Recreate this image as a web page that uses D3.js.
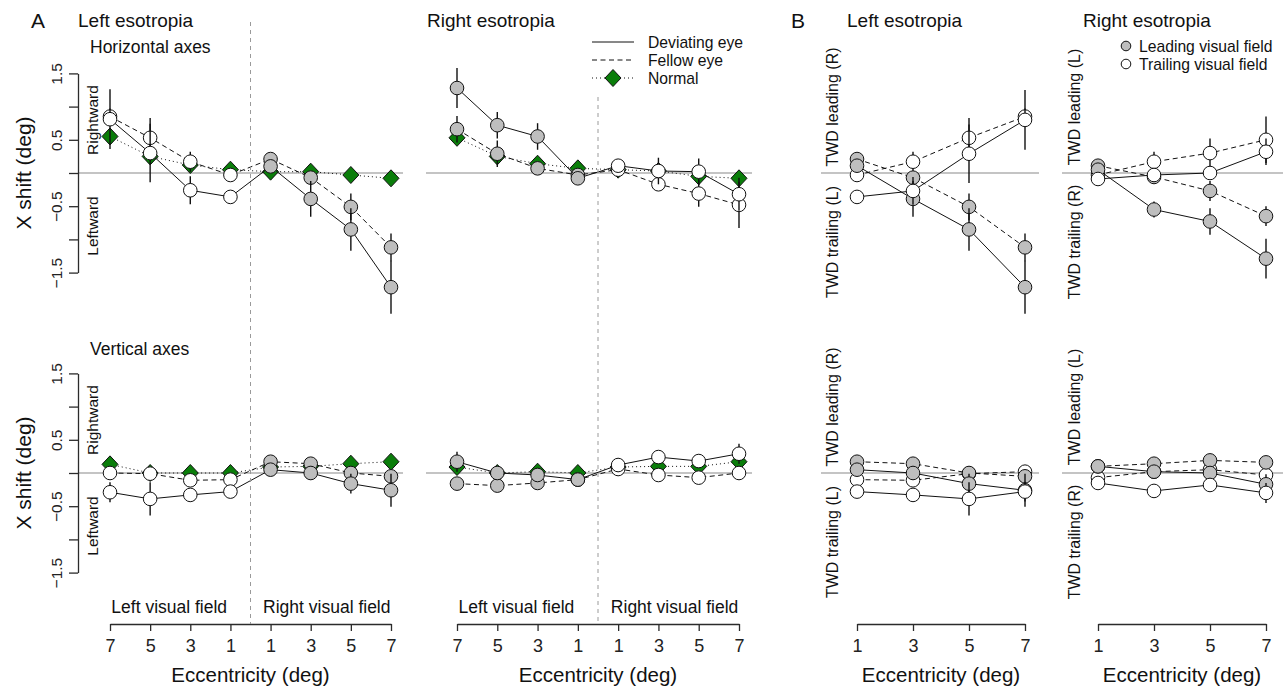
<!DOCTYPE html>
<html>
<head>
<meta charset="utf-8">
<script src="https://cdn.jsdelivr.net/npm/d3@7"></script>
<style>
  body { margin: 0; background: #fff; }
  svg { font-family: "Liberation Sans", Arial, sans-serif; }
</style>
</head>
<body>
<div id="chart"></div>
<script>
// categories
var fieldCats = ["L7", "L5", "L3", "L1", "R1", "R3", "R5", "R7"];
var fieldTickLabels = ["7", "5", "3", "1", "1", "3", "5", "7"];
var eccB = [1, 3, 5, 7];
var yTicks = [-1.5, -1, -0.5, 0, 0.5, 1, 1.5];

// A: left esotropia, horizontal axes
var aLeHorDev = [0.81, 0.30, -0.26, -0.36, 0.10, -0.39, -0.85, -1.72];
var aLeHorDevSe = [0.45, 0.44, 0.21, 0.06, 0.08, 0.27, 0.32, 0.40];
var aLeHorFel = [0.85, 0.53, 0.17, -0.03, 0.21, -0.07, -0.51, -1.12];
var aLeHorFelSe = [0.12, 0.30, 0.15, 0.05, 0.06, 0.10, 0.20, 0.21];
var aLeHorNor = [0.55, 0.25, 0.12, 0.05, 0.02, 0.02, -0.03, -0.08];
var aLeHorNorSe = [0.08, 0.05, 0.05, 0.03, 0.03, 0.03, 0.03, 0.08];

// A: right esotropia, horizontal axes
var aReHorDev = [1.28, 0.72, 0.55, -0.08, 0.11, 0.03, 0.02, -0.32];
var aReHorDevSe = [0.30, 0.20, 0.20, 0.05, 0.10, 0.20, 0.20, 0.25];
var aReHorFel = [0.66, 0.29, 0.07, -0.03, 0.05, -0.17, -0.31, -0.48];
var aReHorFelSe = [0.20, 0.20, 0.05, 0.05, 0.05, 0.10, 0.20, 0.35];
var aReHorNor = [0.53, 0.25, 0.14, 0.07, 0.05, 0.03, -0.05, -0.08];
var aReHorNorSe = [0.10, 0.06, 0.05, 0.03, 0.03, 0.03, 0.03, 0.10];

// A: left esotropia, vertical axes
var aLeVerDev = [-0.29, -0.39, -0.33, -0.28, 0.05, 0.00, -0.16, -0.26];
var aLeVerDevSe = [0.15, 0.25, 0.10, 0.05, 0.05, 0.10, 0.15, 0.25];
var aLeVerFel = [0.00, -0.01, -0.11, -0.10, 0.17, 0.14, 0.00, -0.05];
var aLeVerFelSe = [0.08, 0.10, 0.05, 0.05, 0.05, 0.05, 0.05, 0.08];
var aLeVerNor = [0.13, 0.00, 0.00, 0.00, 0.09, 0.10, 0.14, 0.17];
var aLeVerNorSe = [0.03, 0.03, 0.03, 0.03, 0.03, 0.03, 0.03, 0.03];

// A: right esotropia, vertical axes
var aReVerDev = [0.17, 0.00, -0.03, -0.10, 0.12, 0.24, 0.18, 0.29];
var aReVerDevSe = [0.15, 0.08, 0.05, 0.05, 0.10, 0.08, 0.10, 0.15];
var aReVerFel = [-0.16, -0.19, -0.15, -0.10, 0.06, -0.03, -0.07, 0.00];
var aReVerFelSe = [0.06, 0.05, 0.05, 0.05, 0.05, 0.05, 0.05, 0.10];
var aReVerNor = [0.09, 0.00, 0.02, 0.00, 0.09, 0.10, 0.10, 0.17];
var aReVerNorSe = [0.03, 0.03, 0.03, 0.03, 0.03, 0.03, 0.03, 0.03];

// B: TWD, left esotropia, horizontal
var bLeHorLeadDev = [0.11, -0.39, -0.85, -1.72];
var bLeHorLeadDevSe = [0.08, 0.27, 0.32, 0.40];
var bLeHorLeadFel = [0.21, -0.07, -0.51, -1.12];
var bLeHorLeadFelSe = [0.06, 0.10, 0.20, 0.21];
var bLeHorTrailDev = [-0.36, -0.27, 0.29, 0.80];
var bLeHorTrailDevSe = [0.06, 0.21, 0.44, 0.45];
var bLeHorTrailFel = [-0.03, 0.17, 0.53, 0.85];
var bLeHorTrailFelSe = [0.05, 0.15, 0.30, 0.12];

// B: TWD, right esotropia, horizontal
var bReHorLeadDev = [0.05, -0.55, -0.73, -1.29];
var bReHorLeadDevSe = [0.05, 0.12, 0.20, 0.30];
var bReHorLeadFel = [0.11, -0.06, -0.27, -0.65];
var bReHorLeadFelSe = [0.05, 0.10, 0.15, 0.15];
var bReHorTrailDev = [-0.09, -0.03, 0.00, 0.32];
var bReHorTrailDevSe = [0.05, 0.10, 0.10, 0.20];
var bReHorTrailFel = [-0.03, 0.17, 0.30, 0.50];
var bReHorTrailFelSe = [0.05, 0.15, 0.22, 0.35];

// B: TWD, left esotropia, vertical
var bLeVerLeadDev = [0.05, 0.00, -0.16, -0.26];
var bLeVerLeadDevSe = [0.05, 0.10, 0.15, 0.25];
var bLeVerLeadFel = [0.17, 0.14, 0.00, -0.05];
var bLeVerLeadFelSe = [0.05, 0.05, 0.05, 0.08];
var bLeVerTrailDev = [-0.28, -0.33, -0.39, -0.28];
var bLeVerTrailDevSe = [0.05, 0.10, 0.25, 0.15];
var bLeVerTrailFel = [-0.10, -0.11, -0.01, 0.02];
var bLeVerTrailFelSe = [0.05, 0.05, 0.10, 0.08];

// B: TWD, right esotropia, vertical
var bReVerLeadDev = [0.10, 0.02, 0.00, -0.17];
var bReVerLeadDevSe = [0.05, 0.05, 0.05, 0.15];
var bReVerLeadFel = [0.10, 0.14, 0.19, 0.16];
var bReVerLeadFelSe = [0.05, 0.05, 0.05, 0.06];
var bReVerTrailDev = [-0.15, -0.27, -0.18, -0.30];
var bReVerTrailDevSe = [0.05, 0.08, 0.10, 0.15];
var bReVerTrailFel = [-0.07, 0.02, 0.05, -0.03];
var bReVerTrailFelSe = [0.05, 0.05, 0.05, 0.10];

var gray = "#bebebe";
var green = "#0a7d0a";
var axisCol = "#2b2b2b";
var halfRange = 99.6; // px for 1.5 deg

var svg = d3.select("#chart").append("svg")
    .attr("width", 1283)
    .attr("height", 687);

var diamond = "M0,-8.5L8,0L0,8.5L-8,0Z";

function fmtTick(d) {
    if (Math.abs(d) === 1.5 || Math.abs(d) === 0.5) return d < 0 ? "\u2212" + Math.abs(d) : "" + d;
    return "";
}

function addText(x, y, str, size, anchor, rotate) {
    var t = svg.append("text")
        .attr("font-size", size)
        .attr("fill", "#111")
        .attr("text-anchor", anchor || "start")
        .text(str);
    if (rotate) t.attr("transform", "translate(" + x + "," + y + ") rotate(-90)");
    else t.attr("x", x).attr("y", y);
    return t;
}

function drawSeries(g, x, y, cats, vals, se, dash, marker, fillFn) {
    var pts = cats.map(function (c, i) { return { c: c, v: vals[i], se: se[i], i: i }; });

    g.append("g").selectAll("line")
        .data(pts)
        .enter().append("line")
        .attr("x1", function (d) { return x(d.c); })
        .attr("x2", function (d) { return x(d.c); })
        .attr("y1", function (d) { return y(d.v - d.se); })
        .attr("y2", function (d) { return y(d.v + d.se); })
        .attr("stroke", "#111")
        .attr("stroke-width", 1.4);

    g.append("path")
        .datum(pts)
        .attr("fill", "none")
        .attr("stroke", "#111")
        .attr("stroke-width", 1)
        .attr("stroke-dasharray", dash)
        .attr("d", d3.line()
            .x(function (d) { return x(d.c); })
            .y(function (d) { return y(d.v); }));

    if (marker === "diamond") {
        g.append("g").selectAll("path")
            .data(pts)
            .enter().append("path")
            .attr("d", diamond)
            .attr("transform", function (d) { return "translate(" + x(d.c) + "," + y(d.v) + ")"; })
            .attr("fill", green)
            .attr("stroke", "#111")
            .attr("stroke-width", 1);
    } else {
        g.append("g").selectAll("circle")
            .data(pts)
            .enter().append("circle")
            .attr("cx", function (d) { return x(d.c); })
            .attr("cy", function (d) { return y(d.v); })
            .attr("r", 6.8)
            .attr("fill", fillFn)
            .attr("stroke", "#111")
            .attr("stroke-width", 1);
    }
}

function drawXAxis(x, yPos, fmt) {
    var ax = svg.append("g")
        .attr("transform", "translate(0," + yPos + ")")
        .call(d3.axisBottom(x).tickSize(7).tickSizeOuter(0).tickFormat(fmt));
    ax.attr("font-family", null).attr("font-size", null);
    ax.selectAll("path, line").attr("stroke", axisCol).attr("stroke-width", 1.3);
    ax.selectAll("text").attr("font-size", 18).attr("fill", "#222").attr("y", 15);
    return ax;
}

function drawA(cfg) {
    var x = d3.scalePoint().domain(fieldCats).range([cfg.x0, cfg.x1]);
    var y = d3.scaleLinear().domain([-1.5, 1.5]).range([cfg.zy + halfRange, cfg.zy - halfRange]);
    var g = svg.append("g");

    g.append("line")
        .attr("x1", cfg.zx0).attr("x2", cfg.zx1)
        .attr("y1", y(0)).attr("y2", y(0))
        .attr("stroke", "#b0b0b0").attr("stroke-width", 1.3);

    var fillFn = function (d) { return d.c[0] === "L" ? cfg.fillL : cfg.fillR; };
    drawSeries(g, x, y, fieldCats, cfg.nor, cfg.norSe, "1,3", "diamond");
    drawSeries(g, x, y, fieldCats, cfg.fel, cfg.felSe, "5,3.5", "circle", fillFn);
    drawSeries(g, x, y, fieldCats, cfg.dev, cfg.devSe, null, "circle", fillFn);

    if (cfg.yAxis) {
        var ay = svg.append("g")
            .attr("transform", "translate(78,0)")
            .call(d3.axisLeft(y).tickValues(yTicks).tickSize(9).tickSizeOuter(0).tickFormat(fmtTick));
        ay.attr("font-family", null).attr("font-size", null);
        ay.selectAll("path, line").attr("stroke", axisCol).attr("stroke-width", 1.3);
        ay.selectAll("text")
            .attr("font-size", 15.5)
            .attr("fill", "#222")
            .attr("text-anchor", "middle")
            .attr("dy", 0)
            .attr("x", 0)
            .attr("y", -16)
            .attr("transform", "rotate(-90)");
        addText(31, cfg.zy, "X shift (deg)", 21, "middle", true);
        addText(98, cfg.zy - 53, "Rightward", 15.5, "middle", true);
        addText(98, cfg.zy + 53, "Leftward", 15.5, "middle", true);
    }

    if (cfg.xAxis) {
        drawXAxis(x, 624, function (d, i) { return fieldTickLabels[i]; });
        var mid = (cfg.x0 + cfg.x1) / 2;
        addText(mid, 682, "Eccentricity (deg)", 20.5, "middle");
        var lMid = (x("L7") + x("L1")) / 2, rMid = (x("R1") + x("R7")) / 2;
        addText(lMid - 1, 613, "Left visual field", 17.5, "middle");
        addText(rMid - 4, 613, "Right visual field", 17.5, "middle");
    }
    return x;
}

function drawB(cfg) {
    var x = d3.scalePoint().domain(eccB).range([cfg.x0, cfg.x1]);
    var y = d3.scaleLinear().domain([-1.5, 1.5]).range([cfg.zy + halfRange, cfg.zy - halfRange]);
    var g = svg.append("g");

    g.append("line")
        .attr("x1", cfg.zx0).attr("x2", cfg.zx1)
        .attr("y1", y(0)).attr("y2", y(0))
        .attr("stroke", "#b0b0b0").attr("stroke-width", 1.3);

    drawSeries(g, x, y, eccB, cfg.trailFel, cfg.trailFelSe, "5,3.5", "circle", "white");
    drawSeries(g, x, y, eccB, cfg.leadFel, cfg.leadFelSe, "5,3.5", "circle", gray);
    drawSeries(g, x, y, eccB, cfg.leadDev, cfg.leadDevSe, null, "circle", gray);
    drawSeries(g, x, y, eccB, cfg.trailDev, cfg.trailDevSe, null, "circle", "white");

    addText(cfg.labX, cfg.zy - 66, "TWD leading (" + cfg.lead + ")", 16, "middle", true);
    addText(cfg.labX, cfg.zy + 69, "TWD trailing (" + cfg.trail + ")", 16, "middle", true);

    if (cfg.xAxis) {
        drawXAxis(x, 624, function (d) { return d; });
        addText((cfg.x0 + cfg.x1) / 2, 682, "Eccentricity (deg)", 20.5, "middle");
    }
}

// ---- panel A ----
var xA1 = drawA({ x0: 110, x1: 391, zx0: 78, zx1: 403, zy: 173, yAxis: true, fillL: "white", fillR: gray,
    dev: aLeHorDev, devSe: aLeHorDevSe, fel: aLeHorFel, felSe: aLeHorFelSe, nor: aLeHorNor, norSe: aLeHorNorSe });
var xA2 = drawA({ x0: 457, x1: 739, zx0: 426, zx1: 752, zy: 173, fillL: gray, fillR: "white",
    dev: aReHorDev, devSe: aReHorDevSe, fel: aReHorFel, felSe: aReHorFelSe, nor: aReHorNor, norSe: aReHorNorSe });
drawA({ x0: 110, x1: 391, zx0: 78, zx1: 403, zy: 473, yAxis: true, xAxis: true, fillL: "white", fillR: gray,
    dev: aLeVerDev, devSe: aLeVerDevSe, fel: aLeVerFel, felSe: aLeVerFelSe, nor: aLeVerNor, norSe: aLeVerNorSe });
drawA({ x0: 457, x1: 739, zx0: 426, zx1: 752, zy: 473, xAxis: true, fillL: gray, fillR: "white",
    dev: aReVerDev, devSe: aReVerDevSe, fel: aReVerFel, felSe: aReVerFelSe, nor: aReVerNor, norSe: aReVerNorSe });

// field dividers
[[xA1, 22], [xA2, 97]].forEach(function (p) {
    var mx = (p[0]("L1") + p[0]("R1")) / 2;
    svg.append("line")
        .attr("x1", mx).attr("x2", mx)
        .attr("y1", p[1]).attr("y2", 624)
        .attr("stroke", "#9a9a9a").attr("stroke-width", 1)
        .attr("stroke-dasharray", "4,4");
});

// ---- panel B ----
drawB({ x0: 857, x1: 1025, zx0: 821, zx1: 1039, zy: 173, labX: 838, lead: "R", trail: "L",
    leadDev: bLeHorLeadDev, leadDevSe: bLeHorLeadDevSe, leadFel: bLeHorLeadFel, leadFelSe: bLeHorLeadFelSe,
    trailDev: bLeHorTrailDev, trailDevSe: bLeHorTrailDevSe, trailFel: bLeHorTrailFel, trailFelSe: bLeHorTrailFelSe });
drawB({ x0: 1098, x1: 1266, zx0: 1062, zx1: 1283, zy: 173, labX: 1080, lead: "L", trail: "R",
    leadDev: bReHorLeadDev, leadDevSe: bReHorLeadDevSe, leadFel: bReHorLeadFel, leadFelSe: bReHorLeadFelSe,
    trailDev: bReHorTrailDev, trailDevSe: bReHorTrailDevSe, trailFel: bReHorTrailFel, trailFelSe: bReHorTrailFelSe });
drawB({ x0: 857, x1: 1025, zx0: 821, zx1: 1039, zy: 473, labX: 838, lead: "R", trail: "L", xAxis: true,
    leadDev: bLeVerLeadDev, leadDevSe: bLeVerLeadDevSe, leadFel: bLeVerLeadFel, leadFelSe: bLeVerLeadFelSe,
    trailDev: bLeVerTrailDev, trailDevSe: bLeVerTrailDevSe, trailFel: bLeVerTrailFel, trailFelSe: bLeVerTrailFelSe });
drawB({ x0: 1098, x1: 1266, zx0: 1062, zx1: 1283, zy: 473, labX: 1080, lead: "L", trail: "R", xAxis: true,
    leadDev: bReVerLeadDev, leadDevSe: bReVerLeadDevSe, leadFel: bReVerLeadFel, leadFelSe: bReVerLeadFelSe,
    trailDev: bReVerTrailDev, trailDevSe: bReVerTrailDevSe, trailFel: bReVerTrailFel, trailFelSe: bReVerTrailFelSe });

// ---- titles ----
addText(31, 28, "A", 21);
addText(78, 27, "Left esotropia", 19);
addText(427, 27, "Right esotropia", 19);
addText(90, 53, "Horizontal axes", 17.5);
addText(90, 355, "Vertical axes", 17.5);
addText(791, 28, "B", 21);
addText(847, 27, "Left esotropia", 19);
addText(1083, 27, "Right esotropia", 19);

// ---- legend A ----
var legA = [
    { label: "Deviating eye", dash: null },
    { label: "Fellow eye", dash: "5,3.5" },
    { label: "Normal", dash: "1,3" }
];
var la = svg.append("g").selectAll("g")
    .data(legA)
    .enter().append("g")
    .attr("transform", function (d, i) { return "translate(0," + (42 + i * 18) + ")"; });
la.append("line")
    .attr("x1", 592).attr("x2", 634)
    .attr("stroke", "#111").attr("stroke-width", 1)
    .attr("stroke-dasharray", function (d) { return d.dash; });
la.filter(function (d) { return d.label === "Normal"; })
    .append("path")
    .attr("d", diamond)
    .attr("transform", "translate(613,0)")
    .attr("fill", green).attr("stroke", "#111");
la.append("text")
    .attr("x", 648).attr("dy", "0.35em")
    .attr("font-size", 15.7).attr("fill", "#111")
    .text(function (d) { return d.label; });

// ---- legend B ----
var legB = [{ label: "Leading visual field", fill: gray }, { label: "Trailing visual field", fill: "white" }];
var lb = svg.append("g").selectAll("g")
    .data(legB)
    .enter().append("g")
    .attr("transform", function (d, i) { return "translate(0," + (46 + i * 18) + ")"; });
lb.append("circle")
    .attr("cx", 1126).attr("r", 4.8)
    .attr("fill", function (d) { return d.fill; })
    .attr("stroke", "#111");
lb.append("text")
    .attr("x", 1139).attr("dy", "0.35em")
    .attr("font-size", 15.7).attr("fill", "#111")
    .text(function (d) { return d.label; });
</script>
</body>
</html>
